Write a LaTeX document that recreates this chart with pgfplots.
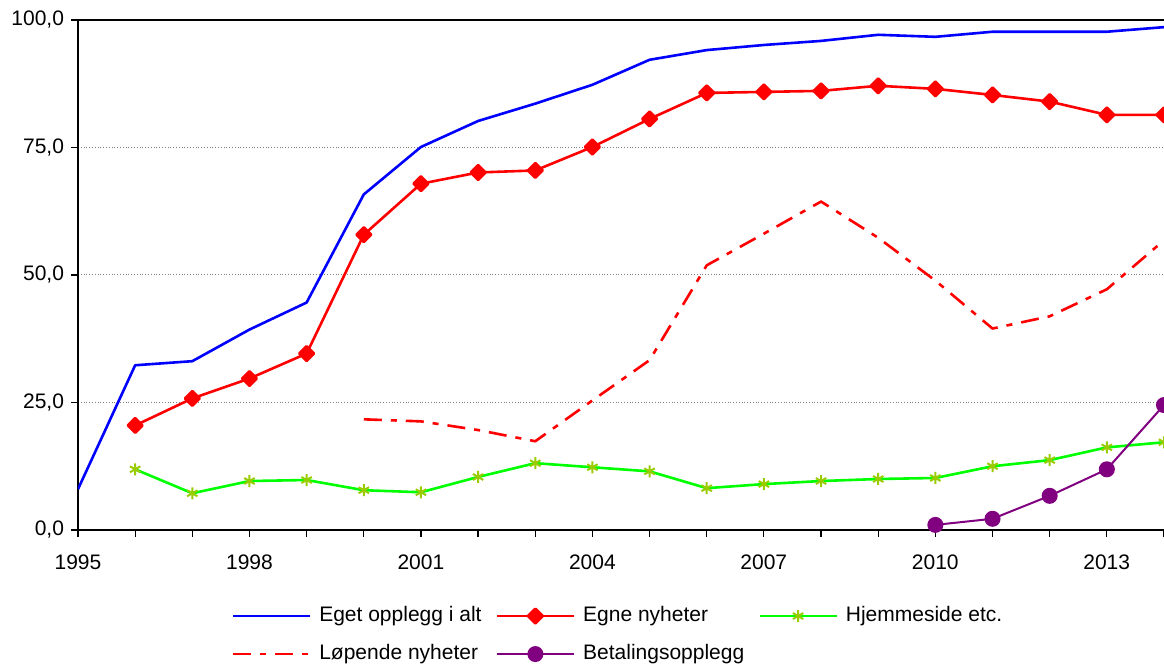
\documentclass[border=0pt]{standalone}
\usepackage{fontspec}
\setmainfont{Liberation Sans}
\usepackage{pgfplots}
\pgfplotsset{compat=1.18}
\definecolor{xlblue}{RGB}{0,0,255}
\definecolor{xlred}{RGB}{255,0,0}
\definecolor{xlgreen}{RGB}{0,255,0}
\definecolor{xlmark}{RGB}{153,204,0}
\definecolor{xlpurple}{RGB}{128,0,128}
\begin{document}
\begin{tikzpicture}
\path[use as bounding box] (-39pt,-67pt) rectangle (543pt,265pt);
\begin{axis}[
  at={(0,0)}, anchor=south west,
  scale only axis, width=543pt, height=255pt,
  xmin=1995, xmax=2014, ymin=0, ymax=100,
  axis x line*=bottom, axis y line*=left,
  axis line style={-, black, line width=0.75pt},
  xtick={1995,...,2014},
  xticklabels={1995,,,1998,,,2001,,,2004,,,2007,,,2010,,,2013,},
  ytick={0,25,50,75,100},
  yticklabels={{0,0},{25,0},{50,0},{75,0},{100,0}},
  tick align=outside, major tick length=3.5pt,
  tick style={black, line width=0.6pt},
  ymajorgrids, major grid style={gray, densely dotted, line width=0.5pt},
  tick label style={font=\fontsize{10.5}{12}\selectfont},
  xticklabel style={yshift=-5.5pt},
  legend columns=3,
  legend cell align=left,
  legend style={draw=none, fill=none, at={(axis description cs:0.5,-0.206)}, anchor=center,
    font=\fontsize{10.5}{12}\selectfont,
    /tikz/every even column/.append style={column sep=3pt},
    nodes={inner xsep=4pt, inner ysep=2pt, text height=8pt, text depth=2.5pt}, row sep=4.5pt},
  legend image code/.code={\draw[mark repeat=2,mark phase=2,#1] plot coordinates {(0pt,0pt) (19.25pt,0pt) (38.5pt,0pt)};},
  every axis plot/.append style={line join=round},
]
\addplot[xlblue, line width=1.3pt, mark=none] coordinates {
(1995,8.0) (1996,32.3) (1997,33.1) (1998,39.3) (1999,44.6) (2000,65.8)
(2001,75.1) (2002,80.2) (2003,83.6) (2004,87.3) (2005,92.2) (2006,94.1)
(2007,95.1) (2008,95.9) (2009,97.1) (2010,96.7) (2011,97.7) (2012,97.7)
(2013,97.7) (2014,98.6)};
\addlegendentry{Eget opplegg i alt}
\addplot[xlred, line width=1.3pt, mark=square*, mark size=2.6pt, mark options={solid, rotate=45, fill=xlred, draw=xlred}] coordinates {
(1996,20.5) (1997,25.8) (1998,29.7) (1999,34.6) (2000,57.9)
(2001,67.9) (2002,70.1) (2003,70.5) (2004,75.1) (2005,80.6) (2006,85.7)
(2007,85.9) (2008,86.1) (2009,87.1) (2010,86.5) (2011,85.3) (2012,84.0)
(2013,81.4) (2014,81.4)};
\addlegendentry{Egne nyheter}
\addplot[xlgreen, line width=1.3pt, mark=asterisk, mark size=3pt, mark options={solid, draw=xlmark, line width=1pt}] coordinates {
(1996,11.9) (1997,7.2) (1998,9.6) (1999,9.8) (2000,7.8)
(2001,7.4) (2002,10.4) (2003,13.1) (2004,12.3) (2005,11.5) (2006,8.2)
(2007,9.0) (2008,9.6) (2009,10.0) (2010,10.2) (2011,12.5) (2012,13.7)
(2013,16.2) (2014,17.2)};
\addlegendentry{Hjemmeside etc.}
\addplot[xlred, line width=1.3pt, mark=none, dash pattern=on 9pt off 4.5pt on 3pt off 4.5pt] coordinates {
(2000,21.7) (2001,21.3) (2002,19.6) (2003,17.4) (2004,25.4) (2005,33.3)
(2006,51.9) (2007,58.1) (2008,64.4) (2009,57.3) (2010,48.9) (2011,39.5)
(2012,41.9) (2013,47.2) (2014,56.8)};
\addlegendentry{Løpende nyheter}
\addplot[xlpurple, line width=1pt, mark=*, mark size=3.5pt, mark options={solid, fill=xlpurple, draw=xlpurple}] coordinates {
(2010,1.0) (2011,2.2) (2012,6.7) (2013,11.9) (2014,24.5)};
\addlegendentry{Betalingsopplegg}
\draw[black, line width=0.75pt] (rel axis cs:0,1) -- (rel axis cs:1,1);
\end{axis}
\end{tikzpicture}
\end{document}
